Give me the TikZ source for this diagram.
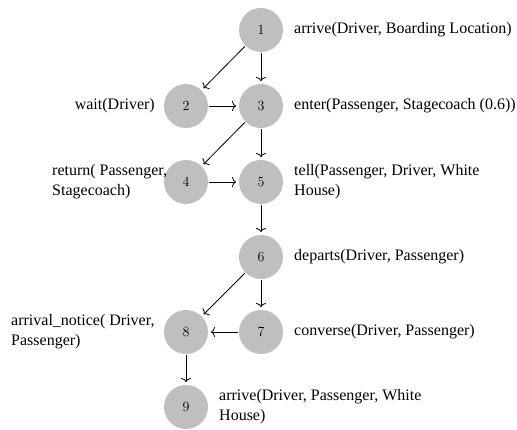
\documentclass[tikz,border=0pt]{standalone}
\usepackage{fontspec}
\newfontfamily\tnr{Liberation Serif}
\usetikzlibrary{arrows.meta}
\definecolor{nodegray}{RGB}{191,191,191}
\begin{document}
\begin{tikzpicture}[x=1pt,y=-1pt,
  state/.style={circle,fill=nodegray,minimum size=44pt,inner sep=0pt,outer sep=1pt,font=\fontsize{14}{14}\selectfont},
  lbl/.style={align=left,inner sep=0pt,font=\tnr\fontsize{16}{20}\selectfont},
  edge/.style={draw=black,line width=0.8pt,-{To[length=4pt,width=10pt]},shorten >=2pt}]
\useasboundingbox (0,0) rectangle (517,430);
\node[state] (n1) at (261,30) {1};
\node[state] (n2) at (186,106) {2};
\node[state] (n3) at (261,106) {3};
\node[state] (n4) at (186,182) {4};
\node[state] (n5) at (261,182) {5};
\node[state] (n6) at (261,257) {6};
\node[state] (n7) at (261,332) {7};
\node[state] (n8) at (186,332) {8};
\node[state] (n9) at (186,407) {9};

\node[lbl,anchor=west] (l1) at (294,30) {arrive(Driver, Boarding Location)};
\node[lbl,anchor=east] (l2) at (155,106) {wait(Driver)};
\node[lbl,anchor=west] (l3) at (294,106) {enter(Passenger, Stagecoach (0.6))};
\node[lbl,anchor=west] (l4) at (52,182) {return( Passenger,\\Stagecoach)};
\node[lbl,anchor=west] (l5) at (294,182) {tell(Passenger, Driver, White\\House)};
\node[lbl,anchor=west] (l6) at (294,257) {departs(Driver, Passenger)};
\node[lbl,anchor=west] (l7) at (294,332) {converse(Driver, Passenger)};
\node[lbl,anchor=west] (l8) at (11,332) {arrival\_notice( Driver,\\Passenger)};
\node[lbl,anchor=west] (l9) at (219,407) {arrive(Driver, Passenger, White\\House)};

\draw[edge] (n1) -- (n2);
\draw[edge] (n1) -- (n3);
\draw[edge] (n2) -- (n3);
\draw[edge] (n3) -- (n4);
\draw[edge] (n3) -- (n5);
\draw[edge] (n4) -- (n5);
\draw[edge] (n5) -- (n6);
\draw[edge] (n6) -- (n8);
\draw[edge] (n6) -- (n7);
\draw[edge] (n7) -- (n8);
\draw[edge] (n8) -- (n9);
\end{tikzpicture}
\end{document}
